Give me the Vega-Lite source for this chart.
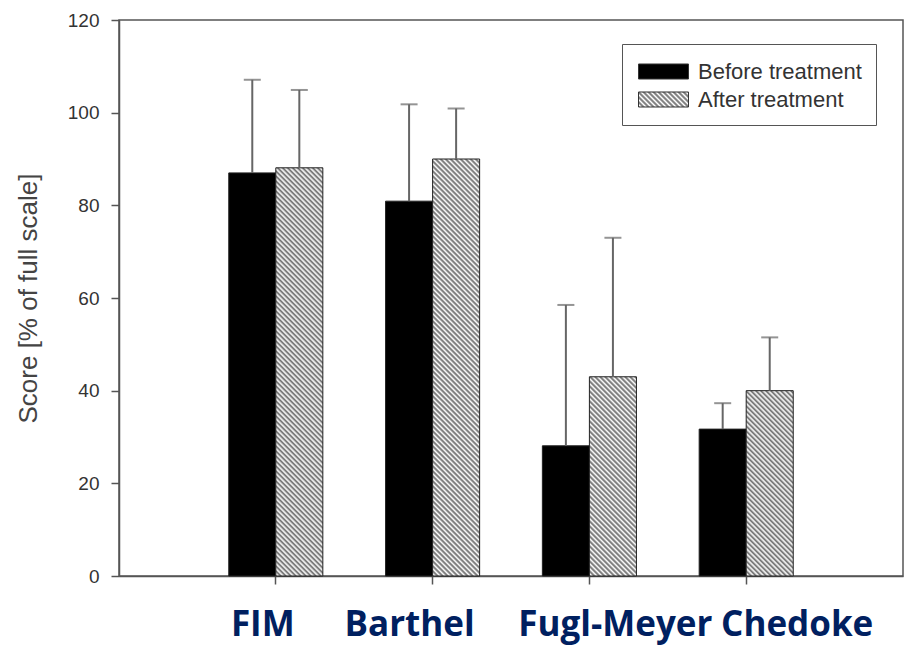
{
  "$schema": "https://vega.github.io/schema/vega-lite/v6.json",
  "width": 784,
  "height": 556,
  "autosize": {"type": "none"},
  "padding": {"left": 119, "top": 20, "right": 4, "bottom": 70},
  "background": "white",
  "params": [
    {"name": "hs", "value": [
{"offset":0,"color":"#666"},{"offset":0.005,"color":"#fff"},{"offset":0.01,"color":"#666"},{"offset":0.015,"color":"#fff"},{"offset":0.02,"color":"#666"},{"offset":0.025,"color":"#fff"},{"offset":0.03,"color":"#666"},{"offset":0.035,"color":"#fff"},{"offset":0.04,"color":"#666"},{"offset":0.045,"color":"#fff"},
{"offset":0.05,"color":"#666"},{"offset":0.055,"color":"#fff"},{"offset":0.06,"color":"#666"},{"offset":0.065,"color":"#fff"},{"offset":0.07,"color":"#666"},{"offset":0.075,"color":"#fff"},{"offset":0.08,"color":"#666"},{"offset":0.085,"color":"#fff"},{"offset":0.09,"color":"#666"},{"offset":0.095,"color":"#fff"},
{"offset":0.1,"color":"#666"},{"offset":0.105,"color":"#fff"},{"offset":0.11,"color":"#666"},{"offset":0.115,"color":"#fff"},{"offset":0.12,"color":"#666"},{"offset":0.125,"color":"#fff"},{"offset":0.13,"color":"#666"},{"offset":0.135,"color":"#fff"},{"offset":0.14,"color":"#666"},{"offset":0.145,"color":"#fff"},
{"offset":0.15,"color":"#666"},{"offset":0.155,"color":"#fff"},{"offset":0.16,"color":"#666"},{"offset":0.165,"color":"#fff"},{"offset":0.17,"color":"#666"},{"offset":0.175,"color":"#fff"},{"offset":0.18,"color":"#666"},{"offset":0.185,"color":"#fff"},{"offset":0.19,"color":"#666"},{"offset":0.195,"color":"#fff"},
{"offset":0.2,"color":"#666"},{"offset":0.205,"color":"#fff"},{"offset":0.21,"color":"#666"},{"offset":0.215,"color":"#fff"},{"offset":0.22,"color":"#666"},{"offset":0.225,"color":"#fff"},{"offset":0.23,"color":"#666"},{"offset":0.235,"color":"#fff"},{"offset":0.24,"color":"#666"},{"offset":0.245,"color":"#fff"},
{"offset":0.25,"color":"#666"},{"offset":0.255,"color":"#fff"},{"offset":0.26,"color":"#666"},{"offset":0.265,"color":"#fff"},{"offset":0.27,"color":"#666"},{"offset":0.275,"color":"#fff"},{"offset":0.28,"color":"#666"},{"offset":0.285,"color":"#fff"},{"offset":0.29,"color":"#666"},{"offset":0.295,"color":"#fff"},
{"offset":0.3,"color":"#666"},{"offset":0.305,"color":"#fff"},{"offset":0.31,"color":"#666"},{"offset":0.315,"color":"#fff"},{"offset":0.32,"color":"#666"},{"offset":0.325,"color":"#fff"},{"offset":0.33,"color":"#666"},{"offset":0.335,"color":"#fff"},{"offset":0.34,"color":"#666"},{"offset":0.345,"color":"#fff"},
{"offset":0.35,"color":"#666"},{"offset":0.355,"color":"#fff"},{"offset":0.36,"color":"#666"},{"offset":0.365,"color":"#fff"},{"offset":0.37,"color":"#666"},{"offset":0.375,"color":"#fff"},{"offset":0.38,"color":"#666"},{"offset":0.385,"color":"#fff"},{"offset":0.39,"color":"#666"},{"offset":0.395,"color":"#fff"},
{"offset":0.4,"color":"#666"},{"offset":0.405,"color":"#fff"},{"offset":0.41,"color":"#666"},{"offset":0.415,"color":"#fff"},{"offset":0.42,"color":"#666"},{"offset":0.425,"color":"#fff"},{"offset":0.43,"color":"#666"},{"offset":0.435,"color":"#fff"},{"offset":0.44,"color":"#666"},{"offset":0.445,"color":"#fff"},
{"offset":0.45,"color":"#666"},{"offset":0.455,"color":"#fff"},{"offset":0.46,"color":"#666"},{"offset":0.465,"color":"#fff"},{"offset":0.47,"color":"#666"},{"offset":0.475,"color":"#fff"},{"offset":0.48,"color":"#666"},{"offset":0.485,"color":"#fff"},{"offset":0.49,"color":"#666"},{"offset":0.495,"color":"#fff"},
{"offset":0.5,"color":"#666"},{"offset":0.505,"color":"#fff"},{"offset":0.51,"color":"#666"},{"offset":0.515,"color":"#fff"},{"offset":0.52,"color":"#666"},{"offset":0.525,"color":"#fff"},{"offset":0.53,"color":"#666"},{"offset":0.535,"color":"#fff"},{"offset":0.54,"color":"#666"},{"offset":0.545,"color":"#fff"},
{"offset":0.55,"color":"#666"},{"offset":0.555,"color":"#fff"},{"offset":0.56,"color":"#666"},{"offset":0.565,"color":"#fff"},{"offset":0.57,"color":"#666"},{"offset":0.575,"color":"#fff"},{"offset":0.58,"color":"#666"},{"offset":0.585,"color":"#fff"},{"offset":0.59,"color":"#666"},{"offset":0.595,"color":"#fff"},
{"offset":0.6,"color":"#666"},{"offset":0.605,"color":"#fff"},{"offset":0.61,"color":"#666"},{"offset":0.615,"color":"#fff"},{"offset":0.62,"color":"#666"},{"offset":0.625,"color":"#fff"},{"offset":0.63,"color":"#666"},{"offset":0.635,"color":"#fff"},{"offset":0.64,"color":"#666"},{"offset":0.645,"color":"#fff"},
{"offset":0.65,"color":"#666"},{"offset":0.655,"color":"#fff"},{"offset":0.66,"color":"#666"},{"offset":0.665,"color":"#fff"},{"offset":0.67,"color":"#666"},{"offset":0.675,"color":"#fff"},{"offset":0.68,"color":"#666"},{"offset":0.685,"color":"#fff"},{"offset":0.69,"color":"#666"},{"offset":0.695,"color":"#fff"},
{"offset":0.7,"color":"#666"},{"offset":0.705,"color":"#fff"},{"offset":0.71,"color":"#666"},{"offset":0.715,"color":"#fff"},{"offset":0.72,"color":"#666"},{"offset":0.725,"color":"#fff"},{"offset":0.73,"color":"#666"},{"offset":0.735,"color":"#fff"},{"offset":0.74,"color":"#666"},{"offset":0.745,"color":"#fff"},
{"offset":0.75,"color":"#666"},{"offset":0.755,"color":"#fff"},{"offset":0.76,"color":"#666"},{"offset":0.765,"color":"#fff"},{"offset":0.77,"color":"#666"},{"offset":0.775,"color":"#fff"},{"offset":0.78,"color":"#666"},{"offset":0.785,"color":"#fff"},{"offset":0.79,"color":"#666"},{"offset":0.795,"color":"#fff"},
{"offset":0.8,"color":"#666"},{"offset":0.805,"color":"#fff"},{"offset":0.81,"color":"#666"},{"offset":0.815,"color":"#fff"},{"offset":0.82,"color":"#666"},{"offset":0.825,"color":"#fff"},{"offset":0.83,"color":"#666"},{"offset":0.835,"color":"#fff"},{"offset":0.84,"color":"#666"},{"offset":0.845,"color":"#fff"},
{"offset":0.85,"color":"#666"},{"offset":0.855,"color":"#fff"},{"offset":0.86,"color":"#666"},{"offset":0.865,"color":"#fff"},{"offset":0.87,"color":"#666"},{"offset":0.875,"color":"#fff"},{"offset":0.88,"color":"#666"},{"offset":0.885,"color":"#fff"},{"offset":0.89,"color":"#666"},{"offset":0.895,"color":"#fff"},
{"offset":0.9,"color":"#666"},{"offset":0.905,"color":"#fff"},{"offset":0.91,"color":"#666"},{"offset":0.915,"color":"#fff"},{"offset":0.92,"color":"#666"},{"offset":0.925,"color":"#fff"},{"offset":0.93,"color":"#666"},{"offset":0.935,"color":"#fff"},{"offset":0.94,"color":"#666"},{"offset":0.945,"color":"#fff"},
{"offset":0.95,"color":"#666"},{"offset":0.955,"color":"#fff"},{"offset":0.96,"color":"#666"},{"offset":0.965,"color":"#fff"},{"offset":0.97,"color":"#666"},{"offset":0.975,"color":"#fff"},{"offset":0.98,"color":"#666"},{"offset":0.985,"color":"#fff"},{"offset":0.99,"color":"#666"},{"offset":0.995,"color":"#fff"},
{"offset":1,"color":"#666"}
    ]}
  ],
  "data": {"values": [
    {"cat": "FIM", "when": "Before treatment", "value": 87.0, "err": 107.1},
    {"cat": "FIM", "when": "After treatment", "value": 88.1, "err": 104.9},
    {"cat": "Barthel", "when": "Before treatment", "value": 80.9, "err": 101.8},
    {"cat": "Barthel", "when": "After treatment", "value": 90.0, "err": 100.9},
    {"cat": "Fugl-Meyer", "when": "Before treatment", "value": 28.1, "err": 58.5},
    {"cat": "Fugl-Meyer", "when": "After treatment", "value": 43.0, "err": 73.0},
    {"cat": "Chedoke", "when": "Before treatment", "value": 31.7, "err": 37.3},
    {"cat": "Chedoke", "when": "After treatment", "value": 40.0, "err": 51.5}
  ]},
  "encoding": {
    "x": {
      "field": "cat", "type": "nominal",
      "sort": ["FIM", "Barthel", "Fugl-Meyer", "Chedoke"],
      "scale": {"paddingInner": 0.4, "paddingOuter": 0.7},
      "title": null,
      "axis": {
        "labelAngle": 0,
        "labelFont": "Open Sans",
        "labelFontWeight": "bold",
        "labelFontSize": 35,
        "labelColor": "#002060",
        "labelPadding": 23,
        "labelBaseline": "top",
        "labelOverlap": false,
        "labelLimit": 400,
        "labelFlush": false,
        "tickSize": 8,
        "labelOffset": {"expr": "datum.value === 'FIM' ? -13 : datum.value === 'Barthel' ? -23 : datum.value === 'Fugl-Meyer' ? 26 : 51"}
      }
    },
    "xOffset": {
      "field": "when", "type": "nominal",
      "sort": ["Before treatment", "After treatment"],
      "scale": {"paddingInner": 0, "paddingOuter": 0}
    }
  },
  "layer": [
    {
      "mark": {"type": "bar", "stroke": "#222", "strokeWidth": 1},
      "encoding": {
        "y": {
          "field": "value", "type": "quantitative",
          "scale": {"domain": [0, 120], "nice": false},
          "title": "Score [% of full scale]",
          "axis": {"values": [0, 20, 40, 60, 80, 100, 120]}
        },
        "fill": {
          "field": "when", "type": "nominal",
          "scale": {
            "domain": ["Before treatment", "After treatment"],
            "range": ["#000000", {"expr": "{gradient: 'linear', x1: 0, y1: 1, x2: 9.174, y2: -1.752, stops: hs}"}]
          },
          "condition": {
            "test": "datum.when === 'After treatment'",
            "value": {"expr": "{gradient: 'linear', x1: 0, y1: 1, x2: 500 * bandwidth('xOffset') / (pow(bandwidth('xOffset'), 2) + pow(scale('y', 0) - scale('y', datum.value), 2)), y2: 1 - 500 * (scale('y', 0) - scale('y', datum.value)) / (pow(bandwidth('xOffset'), 2) + pow(scale('y', 0) - scale('y', datum.value), 2)), stops: hs}"}
          },
          "legend": {
            "title": null,
            "orient": "none",
            "legendX": 503,
            "legendY": 24,
            "symbolType": "M-1.923,-0.577L1.923,-0.577L1.923,0.577L-1.923,0.577Z",
            "symbolSize": 676,
            "symbolOffset": 14,
            "symbolStrokeColor": "#333",
            "symbolStrokeWidth": 1,
            "labelFont": "Liberation Sans",
            "labelFontSize": 22,
            "labelColor": "#333",
            "labelOffset": 21,
            "labelLimit": 300,
            "padding": 14,
            "rowPadding": 3,
            "strokeColor": "#555",
            "fillColor": "white"
          }
        }
      }
    },
    {
      "mark": {"type": "rule", "color": "#666", "strokeWidth": 2},
      "encoding": {
        "y": {"field": "err", "type": "quantitative", "title": "Score [% of full scale]", "axis": {"values": [0, 20, 40, 60, 80, 100, 120]}},
        "y2": {"field": "value"}
      }
    },
    {
      "mark": {"type": "tick", "color": "#666", "size": 17, "thickness": 2},
      "encoding": {
        "y": {"field": "err", "type": "quantitative", "title": "Score [% of full scale]", "axis": {"values": [0, 20, 40, 60, 80, 100, 120]}}
      }
    }
  ],
  "config": {
    "view": {"stroke": "#555", "strokeWidth": 1.5},
    "axis": {"grid": false, "domainColor": "#555", "domainWidth": 1.5, "tickColor": "#555", "tickWidth": 1.5},
    "axisY": {
      "tickSize": 8,
      "labelPadding": 12,
      "labelFont": "Liberation Sans",
      "labelFontSize": 19,
      "labelColor": "#333",
      "titleFont": "Liberation Sans",
      "titleFontSize": 26,
      "titleFontWeight": "normal",
      "titleColor": "#444",
      "titlePadding": 26
    }
  }
}
